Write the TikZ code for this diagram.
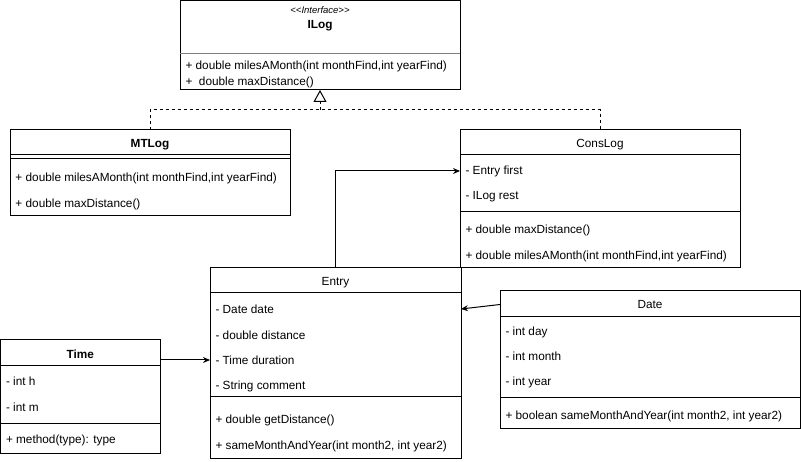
\documentclass[tikz,border=0pt]{standalone}
\usepackage{fontspec}
\setmainfont{Liberation Sans}
\usetikzlibrary{arrows.meta}

\newcommand{\umlfont}{\fontsize{11.8}{14}\selectfont}

\begin{document}
\begin{tikzpicture}[
    x=1pt, y=-1pt,
    line width=1pt,
    font=\umlfont,
    classbox/.style={draw, rectangle, anchor=north west, inner sep=0pt, outer sep=0pt}, % class frame
    heading/.style={inner sep=0pt, yshift=-1.5pt, font=\umlfont\bfseries}, % bold class name
    plainhead/.style={inner sep=0pt, yshift=-1.5pt}, % regular class name
    stereo/.style={inner sep=0pt, font=\fontsize{9.5}{11}\selectfont\itshape},
    member/.style={anchor=west, inner sep=0pt, xshift=5pt, yshift=-1pt}, % attribute / method line
    assoc/.style={-{Stealth[length=7pt, width=6pt]}},
    realize/.style={dash pattern=on 3pt off 3pt}
]
    \useasboundingbox (0,0) rectangle (801,462);

    % === ILog (interface) ===
    \node[classbox, minimum width=280, minimum height=89.5] (ilog) at (180,0.5) {};
    \node[stereo] (ilogStereo) at ([yshift=-10pt]ilog.north) {<{}<Interface>{}>};
    \node[heading] (ilogName) at ([yshift=-24pt]ilog.north) {ILog};
    \draw[gray] ([yshift=-53pt]ilog.north west) -- ([yshift=-53pt]ilog.north east);
    \node[member] (ilogM1) at ([yshift=-65pt]ilog.north west) {+ double milesAMonth(int monthFind,int yearFind)};
    \node[member] (ilogM2) at ([yshift=-81pt]ilog.north west) {+\ \ double maxDistance()};

    % === MTLog ===
    \node[classbox, minimum width=280, minimum height=86] (mtlog) at (10,130) {};
    \node[heading] (mtlogName) at ([yshift=-13pt]mtlog.north) {MTLog};
    \draw ([yshift=-25pt]mtlog.north west) -- ([yshift=-25pt]mtlog.north east);
    \draw ([yshift=-29pt]mtlog.north west) -- ([yshift=-29pt]mtlog.north east);
    \node[member] (mtlogM1) at ([yshift=-47pt]mtlog.north west) {+ double milesAMonth(int monthFind,int yearFind)};
    \node[member] (mtlogM2) at ([yshift=-73pt]mtlog.north west) {+ double maxDistance()};

    % === ConsLog ===
    \node[classbox, minimum width=280, minimum height=138] (conslog) at (460,130) {};
    \node[plainhead] (conslogName) at ([yshift=-13pt]conslog.north) {ConsLog};
    \draw ([yshift=-25pt]conslog.north west) -- ([yshift=-25pt]conslog.north east);
    \node[member] (consFirst) at ([yshift=-40pt]conslog.north west) {- Entry first};
    \node[member] (consRest) at ([yshift=-66pt]conslog.north west) {- ILog rest};
    \draw ([yshift=-82pt]conslog.north west) -- ([yshift=-82pt]conslog.north east);
    \node[member] (consM1) at ([yshift=-99pt]conslog.north west) {+ double maxDistance()};
    \node[member] (consM2) at ([yshift=-125pt]conslog.north west) {+ double milesAMonth(int monthFind,int yearFind)};

    % === Entry ===
    \node[classbox, minimum width=251, minimum height=190] (entry) at (210,268) {};
    \node[plainhead] (entryName) at ([yshift=-13pt]entry.north) {Entry};
    \draw ([yshift=-25pt]entry.north west) -- ([yshift=-25pt]entry.north east);
    \node[member] (entryDate) at ([yshift=-40pt]entry.north west) {- Date date};
    \node[member] (entryDistance) at ([yshift=-66pt]entry.north west) {- double distance};
    \node[member] (entryDuration) at ([yshift=-91pt]entry.north west) {- Time duration};
    \node[member] (entryComment) at ([yshift=-117pt]entry.north west) {- String comment};
    \draw ([yshift=-129pt]entry.north west) -- ([yshift=-129pt]entry.north east);
    \node[member] (entryM1) at ([yshift=-151pt]entry.north west) {+ double getDistance()};
    \node[member] (entryM2) at ([yshift=-177pt]entry.north west) {+ sameMonthAndYear(int month2, int year2)};

    % === Time ===
    \node[classbox, minimum width=159.5, minimum height=113] (time) at (0.5,340) {};
    \node[heading] (timeName) at ([yshift=-13pt]time.north) {Time};
    \draw ([yshift=-26pt]time.north west) -- ([yshift=-26pt]time.north east);
    \node[member] (timeH) at ([yshift=-40pt]time.north west) {- int h};
    \node[member] (timeM) at ([yshift=-66pt]time.north west) {- int m};
    \draw ([yshift=-83pt]time.north west) -- ([yshift=-83pt]time.north east);
    \node[member] (timeMethod) at ([yshift=-99pt]time.north west) {+ method(type): type};

    % === Date ===
    \node[classbox, minimum width=300, minimum height=137] (date) at (500,291) {};
    \node[plainhead] (dateName) at ([yshift=-12pt]date.north) {Date};
    \draw ([yshift=-26pt]date.north west) -- ([yshift=-26pt]date.north east);
    \node[member] (dateDay) at ([yshift=-40pt]date.north west) {- int day};
    \node[member] (dateMonth) at ([yshift=-64pt]date.north west) {- int month};
    \node[member] (dateYear) at ([yshift=-90pt]date.north west) {- int year};
    \draw ([yshift=-107pt]date.north west) -- ([yshift=-107pt]date.north east);
    \node[member] (dateM1) at ([yshift=-124pt]date.north west) {+ boolean sameMonthAndYear(int month2, int year2)};

    % === Realization ===
    \coordinate (implJoin) at ([yshift=-20pt]ilog.south);
    \draw[realize] (mtlog.north) |- (implJoin) -| (conslog.north);
    \draw[realize, -{Triangle[open, length=12pt, width=13pt]}] (implJoin) -- (ilog.south);

    % === Associations ===
    \draw[assoc] ([xshift=125pt]entry.north west) |- (consFirst -| conslog.west);
    \draw[assoc] (time.east |- entryDuration) -- (entryDuration -| entry.west);
    \draw[assoc] (date.west |- dateName) -- (entryDate -| entry.east);

\end{tikzpicture}
\end{document}
